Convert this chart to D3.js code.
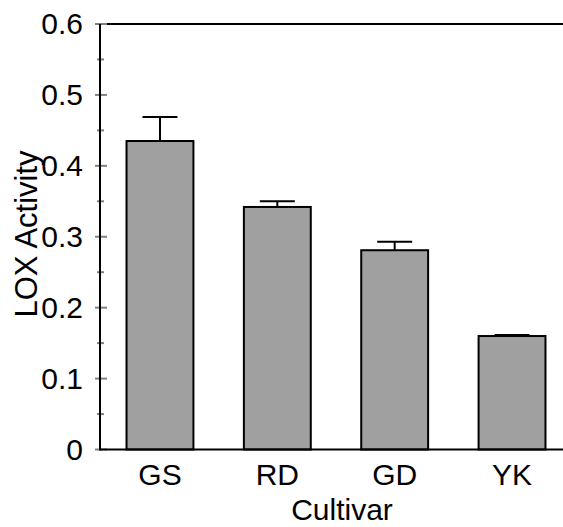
<!DOCTYPE html>
<html>
<head>
<meta charset="utf-8">
<script src="https://cdn.jsdelivr.net/npm/d3@7"></script>
<style>
  html, body { margin: 0; padding: 0; background: #fff; }
  text { font-family: "Liberation Sans", Arial, sans-serif; fill: #000; }
</style>
</head>
<body>
<svg id="chart" width="563" height="527"></svg>
<script>
// LOX activity by cultivar, mean with upper error
const cultivars = ["GS", "RD", "GD", "YK"];
const activity = [0.435, 0.342, 0.281, 0.160];
const errorTop = [0.469, 0.350, 0.293, 0.1615];
const majorTicks = [0, 0.1, 0.2, 0.3, 0.4, 0.5, 0.6];
const minorTicks = [0.05, 0.15, 0.25, 0.35, 0.45, 0.55];

const svg = d3.select("#chart");
const axisX = 100;

const y = d3.scaleLinear().domain([0, 0.6]).range([449.5, 24]);
const x = d3.scaleBand().domain(cultivars).range([101.3, 570.7])
  .paddingInner(0.43).paddingOuter(0.215);

// frame line along the y max
svg.append("line").attr("x1", axisX).attr("x2", 563)
  .attr("y1", y(0.6)).attr("y2", y(0.6))
  .attr("stroke", "#000").attr("stroke-width", 2);

// tick marks crossing the y axis
svg.selectAll("line.major").data(majorTicks).join("line")
  .attr("class", "major")
  .attr("x1", axisX - 5).attr("x2", axisX + 7)
  .attr("y1", d => y(d)).attr("y2", d => y(d))
  .attr("stroke", "#808080").attr("stroke-width", 2);
svg.selectAll("line.minor").data(minorTicks).join("line")
  .attr("class", "minor")
  .attr("x1", axisX - 3).attr("x2", axisX + 4)
  .attr("y1", d => y(d)).attr("y2", d => y(d))
  .attr("stroke", "#808080").attr("stroke-width", 2);

// y tick labels via d3 axis
const yAxis = d3.axisLeft(y).tickValues(majorTicks)
  .tickFormat(d => d === 0 ? "0" : d3.format(".1f")(d))
  .tickSize(0).tickPadding(17);
const gy = svg.append("g").attr("transform", `translate(${axisX},0)`).call(yAxis);
gy.select(".domain").remove();
gy.selectAll("text").style("font-size", "30px")
  .style("font-family", "'Liberation Sans', Arial, sans-serif").attr("fill", "#000");

// bars
svg.selectAll("rect.bar").data(cultivars).join("rect")
  .attr("class", "bar")
  .attr("x", d => x(d))
  .attr("width", x.bandwidth())
  .attr("y", (d, i) => y(activity[i]))
  .attr("height", (d, i) => y(0) - y(activity[i]))
  .attr("fill", "#a0a0a0").attr("stroke", "#000").attr("stroke-width", 2);

// error bars
const cap = 35;
cultivars.forEach((c, i) => {
  const cx = x(c) + x.bandwidth() / 2;
  svg.append("line").attr("x1", cx).attr("x2", cx)
    .attr("y1", y(activity[i])).attr("y2", y(errorTop[i]))
    .attr("stroke", "#000").attr("stroke-width", 2);
  svg.append("line").attr("x1", cx - cap / 2).attr("x2", cx + cap / 2)
    .attr("y1", y(errorTop[i])).attr("y2", y(errorTop[i]))
    .attr("stroke", "#000").attr("stroke-width", 2);
});

// baseline and y axis line
svg.append("line").attr("x1", axisX).attr("x2", 563)
  .attr("y1", y(0)).attr("y2", y(0))
  .attr("stroke", "#000").attr("stroke-width", 2);
svg.append("line").attr("x1", axisX).attr("x2", axisX)
  .attr("y1", y(0.6)).attr("y2", y(0) + 1)
  .attr("stroke", "#000").attr("stroke-width", 2);

// x category labels
const xAxis = d3.axisBottom(x).tickSize(0).tickPadding(14);
const gx = svg.append("g").attr("transform", `translate(0,${y(0)})`).call(xAxis);
gx.select(".domain").remove();
gx.selectAll("text").style("font-size", "30px")
  .style("font-family", "'Liberation Sans', Arial, sans-serif").attr("fill", "#000");

// axis titles
svg.append("text").attr("x", 342).attr("y", 520)
  .attr("text-anchor", "middle").style("font-size", "30px").text("Cultivar");
svg.append("text").attr("transform", "translate(37,234) rotate(-90)")
  .attr("text-anchor", "middle").style("font-size", "31px").text("LOX Activity");
</script>
</body>
</html>
